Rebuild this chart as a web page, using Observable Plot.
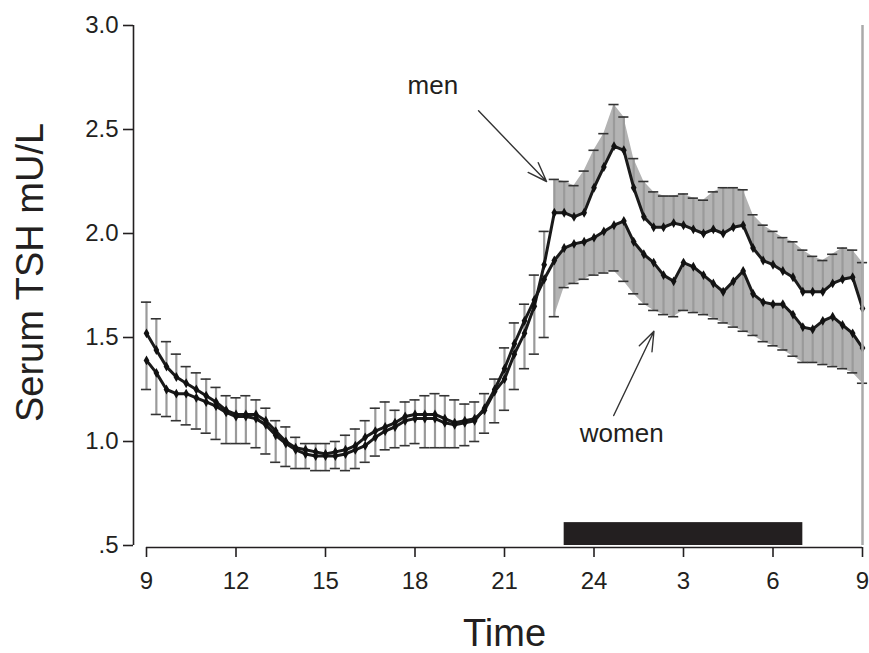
<!DOCTYPE html>
<html><head><meta charset="utf-8">
<script src="https://cdn.jsdelivr.net/npm/d3@7"></script>
<script src="https://cdn.jsdelivr.net/npm/@observablehq/plot@0.6"></script>
<style>body{margin:0;background:#fff} svg{display:block}</style>
</head><body><div id="chart"></div>
<script>
// clock time in hours since 0:00 of day 1 (every 20 minutes, 9:00 to 9:00 next day)
const hours = [9,9.33,9.67,10,10.33,10.67,11,11.33,11.67,12,12.33,12.67,13,13.33,13.67,14,14.33,14.67,15,15.33,15.67,16,16.33,16.67,17,17.33,17.67,18,18.33,18.67,19,19.33,19.67,20,20.33,20.67,21,21.33,21.67,22,22.33,22.67,23,23.33,23.67,24,24.33,24.67,25,25.33,25.67,26,26.33,26.67,27,27.33,27.67,28,28.33,28.67,29,29.33,29.67,30,30.33,30.67,31,31.33,31.67,32,32.33,32.67,33];
const men = [1.52,1.44,1.36,1.31,1.28,1.25,1.22,1.19,1.15,1.13,1.13,1.13,1.10,1.05,1.00,0.97,0.96,0.95,0.94,0.95,0.96,0.98,1.02,1.05,1.07,1.09,1.12,1.13,1.13,1.13,1.11,1.09,1.10,1.11,1.15,1.24,1.30,1.42,1.52,1.65,1.85,2.10,2.10,2.08,2.10,2.22,2.32,2.42,2.40,2.22,2.08,2.03,2.03,2.05,2.04,2.02,2.00,2.02,2.00,2.03,2.04,1.93,1.87,1.85,1.82,1.79,1.72,1.72,1.72,1.76,1.78,1.79,1.64];
const menUpper = [1.67,1.59,1.48,1.42,1.36,1.33,1.30,1.26,1.22,1.21,1.22,1.20,1.16,1.10,1.07,1.02,0.99,0.99,0.99,1.00,1.03,1.06,1.10,1.16,1.19,1.15,1.19,1.20,1.22,1.23,1.22,1.20,1.18,1.19,1.23,1.30,1.45,1.57,1.66,1.80,2.01,2.26,2.25,2.23,2.30,2.40,2.48,2.62,2.56,2.36,2.25,2.20,2.18,2.18,2.19,2.17,2.16,2.20,2.22,2.22,2.21,2.09,2.04,2.01,1.98,1.96,1.92,1.89,1.87,1.90,1.93,1.92,1.86];
const women = [1.39,1.33,1.25,1.23,1.23,1.21,1.19,1.17,1.14,1.12,1.12,1.11,1.08,1.03,0.99,0.96,0.94,0.93,0.93,0.93,0.94,0.96,0.98,1.02,1.05,1.07,1.10,1.11,1.11,1.11,1.09,1.08,1.09,1.10,1.16,1.25,1.35,1.47,1.58,1.68,1.78,1.87,1.93,1.95,1.96,1.98,2.01,2.04,2.06,1.96,1.90,1.86,1.80,1.77,1.86,1.84,1.80,1.76,1.72,1.77,1.82,1.71,1.67,1.66,1.66,1.61,1.55,1.54,1.58,1.60,1.56,1.52,1.45];
const womenLower = [1.25,1.13,1.12,1.10,1.08,1.06,1.04,1.01,0.99,0.99,0.99,0.97,0.94,0.90,0.88,0.87,0.87,0.86,0.86,0.87,0.86,0.87,0.90,0.93,0.96,0.97,0.98,0.99,0.97,0.97,0.97,0.97,0.98,1.00,1.04,1.09,1.15,1.25,1.35,1.42,1.50,1.60,1.74,1.76,1.78,1.80,1.81,1.82,1.77,1.71,1.66,1.63,1.61,1.60,1.63,1.62,1.61,1.59,1.57,1.55,1.53,1.51,1.48,1.46,1.44,1.41,1.38,1.38,1.37,1.36,1.35,1.33,1.28];

const xTicks = [9,12,15,18,21,24,27,30,33];
const xTickLabels = ["9","12","15","18","21","24","3","6","9"];
const yTicks = [0.5,1,1.5,2,2.5,3];
const yTickLabels = [".5","1.0","1.5","2.0","2.5","3.0"];
const sleepBar = [{start: 23, end: 31, low: 0.5, high: 0.61}];
const notes = [{text: "men", t: 18.6, v: 2.71}, {text: "women", t: 24.93, v: 1.04}];
const pointers = [{t1: 20.13, v1: 2.59, t2: 22.41, v2: 2.25}, {t1: 24.66, v1: 1.125, t2: 26.01, v2: 1.53}];

const rows = hours.map((t, i) => ({t, men: men[i], menUpper: menUpper[i], women: women[i], womenLower: womenLower[i]}));
const night = rows.filter(d => d.t >= 22.6);
const ink = "#231f20";
const font = "'Liberation Sans', Arial, Helvetica, sans-serif";
const tickFont = "'Liberation Sans Narrow', 'Arial Narrow', 'Liberation Sans', Arial, sans-serif";

const chart = Plot.plot({
  width: 869, height: 653,
  marginLeft: 146, marginRight: 7, marginTop: 25, marginBottom: 108,
  style: {fontFamily: font, color: ink, background: "#fff"},
  x: {domain: [9, 33]},
  y: {domain: [0.5, 3.0]},
  marks: [
    Plot.rect(sleepBar, {x1: "start", x2: "end", y1: "low", y2: "high", fill: ink}),
    Plot.areaY(night, {x: "t", y1: "men", y2: "menUpper", fill: "#b3b3b3"}),
    Plot.areaY(night, {x: "t", y1: "womenLower", y2: "women", fill: "#b3b3b3"}),
    Plot.ruleX(rows, {x: "t", y1: "men", y2: "menUpper", stroke: "#9a9a9a", strokeWidth: 2.2}),
    Plot.ruleX(rows, {x: "t", y1: "womenLower", y2: "women", stroke: "#9a9a9a", strokeWidth: 2.2}),
    Plot.ruleY(rows, {y: "menUpper", x1: d => d.t - 0.17, x2: d => d.t + 0.17, stroke: "#333", strokeWidth: 1.6}),
    Plot.ruleY(rows, {y: "womenLower", x1: d => d.t - 0.17, x2: d => d.t + 0.17, stroke: "#333", strokeWidth: 1.6}),
    Plot.line(rows, {x: "t", y: "men", stroke: "#1a1a1a", strokeWidth: 3}),
    Plot.line(rows, {x: "t", y: "women", stroke: "#1a1a1a", strokeWidth: 3}),
    Plot.dot(rows, {x: "t", y: "men", symbol: "diamond", r: 3, fill: "#111"}),
    Plot.dot(rows, {x: "t", y: "women", symbol: "diamond", r: 3, fill: "#111"}),
    Plot.ruleX([33], {y1: 0.5, y2: 3, stroke: "#aaa", strokeWidth: 2.5}),
    Plot.ruleX([9], {y1: 0.5, y2: 3, dx: -13, stroke: ink, strokeWidth: 1.6}),
    Plot.ruleY([0.5], {x1: 9, x2: 33, dy: 2, stroke: ink, strokeWidth: 1.6}),
    Plot.axisY({ticks: yTicks, tickFormat: () => "", tickSize: 10, dx: -13, label: null, strokeWidth: 1.6}),
    Plot.axisX({ticks: xTicks, tickFormat: () => "", tickSize: 10, dy: 2, label: null, strokeWidth: 1.6}),
    Plot.text(yTicks, {x: 9, y: d => d, text: (d, i) => yTickLabels[i], dx: -28, textAnchor: "end", fontSize: 24, fontFamily: tickFont, fill: ink}),
    Plot.text(xTicks, {x: d => d, y: 0.5, text: (d, i) => xTickLabels[i], dy: 36, fontSize: 24, fontFamily: tickFont, fill: ink}),
    Plot.text(notes, {x: "t", y: "v", text: "text", fontSize: 26, fill: ink}),
    Plot.arrow(pointers, {x1: "t1", y1: "v1", x2: "t2", y2: "v2", stroke: "#333", strokeWidth: 1.4, headLength: 22, headAngle: 40}),
    Plot.text(["Serum TSH mU/L"], {frameAnchor: "left", dx: -116, dy: -13, rotate: -90, textAnchor: "middle", fontSize: 38, fill: ink}),
    Plot.text(["Time"], {frameAnchor: "bottom", dy: 100, fontSize: 38, fill: ink})
  ]
});
document.getElementById("chart").append(chart);
</script>
</body></html>
